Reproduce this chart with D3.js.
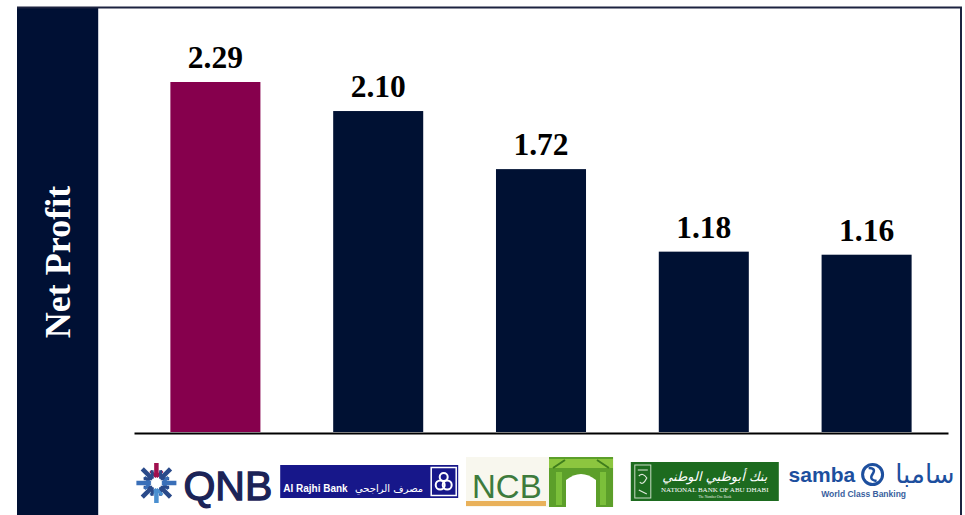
<!DOCTYPE html>
<html>
<head>
<meta charset="utf-8">
<script src="https://cdn.jsdelivr.net/npm/d3@7"></script>
<style>
  html, body { margin: 0; padding: 0; background: #fff; }
  svg { display: block; }
</style>
</head>
<body>
<svg id="chart"></svg>
<script>
const w = 965;
const h = 515;

// chart data
const banks = ['QNB', 'Al Rajhi Bank', 'NCB', 'National Bank of Abu Dhabi', 'Samba'];
const profits = [2.29, 2.10, 1.72, 1.18, 1.16];
const barColors = ['#86004d', '#001133', '#001133', '#001133', '#001133'];
const axisTitle = 'Net Profit';

const navy = '#001034';

const svg = d3.select('#chart').attr('width', w).attr('height', h);

// frame + left title panel
svg.append('rect').attr('x', 17).attr('y', 7).attr('width', 81).attr('height', h - 7).attr('fill', navy);
svg.append('line').attr('x1', 98.5).attr('x2', 98.5).attr('y1', 8).attr('y2', h).attr('stroke', '#c9cdd8').attr('stroke-width', 1);
svg.append('line').attr('x1', 17).attr('x2', 962).attr('y1', 7.5).attr('y2', 7.5).attr('stroke', '#1c2340').attr('stroke-width', 2);
svg.append('line').attr('x1', 961).attr('x2', 961).attr('y1', 7).attr('y2', h).attr('stroke', '#1c2340').attr('stroke-width', 2);

svg.append('text')
  .attr('transform', 'translate(70,262) rotate(-90)')
  .attr('text-anchor', 'middle')
  .attr('fill', '#fff')
  .attr('font-family', '"Liberation Serif", "Times New Roman", serif')
  .attr('font-weight', 'bold')
  .attr('font-size', 36)
  .text(axisTitle);

// scales
const xScale = d3.scaleBand()
  .domain(banks)
  .range([134, 948])
  .paddingInner(0.447)
  .paddingOuter(0.2235);

const yScale = d3.scaleLinear()
  .domain([0, 2.29])
  .range([432, 82]);

// bars
svg.selectAll('rect.bar')
  .data(banks)
  .enter()
  .append('rect')
  .attr('class', 'bar')
  .attr('x', (d) => xScale(d))
  .attr('width', xScale.bandwidth())
  .attr('y', (d, i) => yScale(profits[i]))
  .attr('height', (d, i) => yScale(0) - yScale(profits[i]))
  .attr('fill', (d, i) => barColors[i]);

// value labels
svg.selectAll('text.value')
  .data(banks)
  .enter()
  .append('text')
  .attr('class', 'value')
  .attr('x', (d) => xScale(d) + xScale.bandwidth() / 2)
  .attr('y', (d, i) => yScale(profits[i]) - 14)
  .attr('text-anchor', 'middle')
  .attr('font-family', '"Liberation Serif", "Times New Roman", serif')
  .attr('font-weight', 'bold')
  .attr('font-size', 31.5)
  .attr('fill', '#000')
  .text((d, i) => profits[i].toFixed(2));

// baseline
const xAxis = d3.axisBottom(xScale).tickSize(0).tickFormat('');
svg.append('g')
  .attr('transform', `translate(0,${yScale(0) + 1})`)
  .call(xAxis)
  .call((g) => g.select('.domain').attr('stroke', '#000').attr('stroke-width', 2));

// logos drawn under each band
const cx = (i) => xScale(banks[i]) + xScale.bandwidth() / 2;
const sans = '"Liberation Sans", Arial, sans-serif';

// QNB
(() => {
  const g = svg.append('g').attr('transform', `translate(${cx(0) - 80},0)`);
  const ox = 21, oy = 483;
  const armColors = ['#a0104e', '#2a4a8a', '#3a6fb8', '#2a4a8a', '#4a8fd0', '#2a4a8a', '#3a6fb8', '#2a4a8a'];
  for (let k = 0; k < 8; k++) {
    const a = k * Math.PI / 4 - Math.PI / 2;
    const arm = g.append('g').attr('transform', `translate(${ox},${oy}) rotate(${a * 180 / Math.PI})`);
    arm.append('line').attr('x1', 6).attr('x2', 20).attr('y1', 0).attr('y2', 0)
      .attr('stroke', armColors[k]).attr('stroke-width', 4.5);
    arm.append('path').attr('d', 'M6,0 L12,-6 M6,0 L12,6')
      .attr('stroke', armColors[k]).attr('stroke-width', 3).attr('fill', 'none');
  }
  g.append('text').attr('x', 48).attr('y', 500)
    .attr('font-family', sans).attr('font-size', 41).attr('fill', '#1b2357')
    .attr('stroke', '#1b2357').attr('stroke-width', 1.3)
    .text('QNB');
})();

// Al Rajhi
(() => {
  const g = svg.append('g').attr('transform', `translate(${cx(1) - 98},0)`);
  g.append('rect').attr('x', 0).attr('y', 465).attr('width', 178).attr('height', 33).attr('fill', '#17178a');
  g.append('text').attr('x', 3).attr('y', 492)
    .attr('font-family', sans).attr('font-weight', 'bold').attr('font-size', 10).attr('fill', '#fff')
    .text('Al Rajhi Bank');
  g.append('text').attr('x', 143).attr('y', 492).attr('text-anchor', 'end')
    .attr('font-family', '"DejaVu Sans", sans-serif').attr('font-size', 10).attr('fill', '#fff')
    .text('مصرف الراجحي');
  g.append('rect').attr('x', 151).attr('y', 467.5).attr('width', 25).attr('height', 28)
    .attr('fill', 'none').attr('stroke', '#fff').attr('stroke-width', 1.5);
  g.append('circle').attr('cx', 160).attr('cy', 485).attr('r', 4.5).attr('fill', 'none').attr('stroke', '#fff').attr('stroke-width', 2);
  g.append('circle').attr('cx', 167).attr('cy', 485).attr('r', 4.5).attr('fill', 'none').attr('stroke', '#fff').attr('stroke-width', 2);
  g.append('circle').attr('cx', 163.5).attr('cy', 477).attr('r', 4).attr('fill', 'none').attr('stroke', '#fff').attr('stroke-width', 2);
})();

// NCB
(() => {
  const g = svg.append('g').attr('transform', `translate(${cx(2) - 75},0)`);
  g.append('rect').attr('x', 0).attr('y', 457).attr('width', 148).attr('height', 50).attr('fill', '#f8f7ee');
  g.append('text').attr('x', 6).attr('y', 498)
    .attr('font-family', sans).attr('font-size', 33).attr('fill', '#3d7b3c')
    .text('NCB');
  g.append('rect').attr('x', 0).attr('y', 501).attr('width', 80).attr('height', 5).attr('fill', '#e9b15a');
  g.append('rect').attr('x', 83).attr('y', 457).attr('width', 64).attr('height', 50).attr('fill', '#5c9f2a');
  g.append('rect').attr('x', 83).attr('y', 459).attr('width', 64).attr('height', 9).attr('fill', '#8cc63f');
  g.append('path').attr('d', 'M87,468 L99,460 M143,468 L131,460')
    .attr('stroke', '#3f7d1c').attr('stroke-width', 2).attr('fill', 'none');
  g.append('path').attr('d', 'M100,507 L100,480 Q115,468 130,480 L130,507 Z').attr('fill', '#fff');
  g.append('rect').attr('x', 90).attr('y', 472).attr('width', 6).attr('height', 33).attr('fill', '#7bbf3a');
  g.append('rect').attr('x', 134).attr('y', 472).attr('width', 6).attr('height', 33).attr('fill', '#7bbf3a');
})();

// National Bank of Abu Dhabi
(() => {
  const g = svg.append('g').attr('transform', `translate(${cx(3) - 73},0)`);
  g.append('rect').attr('x', 0).attr('y', 462).attr('width', 148).attr('height', 39).attr('fill', '#1d6b1f');
  g.append('rect').attr('x', 4).attr('y', 465).attr('width', 16).attr('height', 33)
    .attr('fill', 'none').attr('stroke', '#c9dcc6').attr('stroke-width', 1);
  g.append('path').attr('d', 'M7,470 L17,470 M8,476 Q12,472 16,478 Q12,486 9,482 M8,490 L16,494')
    .attr('fill', 'none').attr('stroke', '#dfe9dc').attr('stroke-width', 1.2);
  g.append('text').attr('x', 84).attr('y', 481).attr('text-anchor', 'middle')
    .attr('font-family', '"DejaVu Sans", sans-serif').attr('font-style', 'italic').attr('font-size', 13).attr('fill', '#fff')
    .text('بنك أبوظبي الوطني');
  g.append('text').attr('x', 84).attr('y', 492).attr('text-anchor', 'middle')
    .attr('font-family', '"Liberation Serif", serif').attr('font-size', 7).attr('fill', '#fff')
    .text('NATIONAL BANK OF ABU DHABI');
  g.append('text').attr('x', 84).attr('y', 498).attr('text-anchor', 'middle')
    .attr('font-family', '"Liberation Serif", serif').attr('font-size', 3.5).attr('fill', '#e8efe6')
    .text('The Number One Bank');
})();

// Samba
(() => {
  const g = svg.append('g').attr('transform', `translate(${cx(4) - 78},0)`);
  const blue = '#1d4f9e';
  g.append('text').attr('x', 0).attr('y', 482)
    .attr('font-family', sans).attr('font-weight', 'bold').attr('font-size', 21).attr('fill', blue)
    .text('samba');
  g.append('circle').attr('cx', 84).attr('cy', 474.5).attr('r', 10).attr('fill', 'none').attr('stroke', blue).attr('stroke-width', 3);
  g.append('path').attr('d', 'M80,468 Q88,468 84,474 Q80,480 88,481')
    .attr('fill', 'none').attr('stroke', blue).attr('stroke-width', 2.5);
  g.append('text').attr('x', 166).attr('y', 483).attr('text-anchor', 'end')
    .attr('font-family', '"DejaVu Sans", sans-serif').attr('font-size', 26).attr('fill', blue)
    .text('سامبا');
  g.append('text').attr('x', 75).attr('y', 497).attr('text-anchor', 'middle')
    .attr('font-family', sans).attr('font-weight', 'bold').attr('font-size', 8.5).attr('fill', '#3a5f9e')
    .text('World Class Banking');
})();
</script>
</body>
</html>
